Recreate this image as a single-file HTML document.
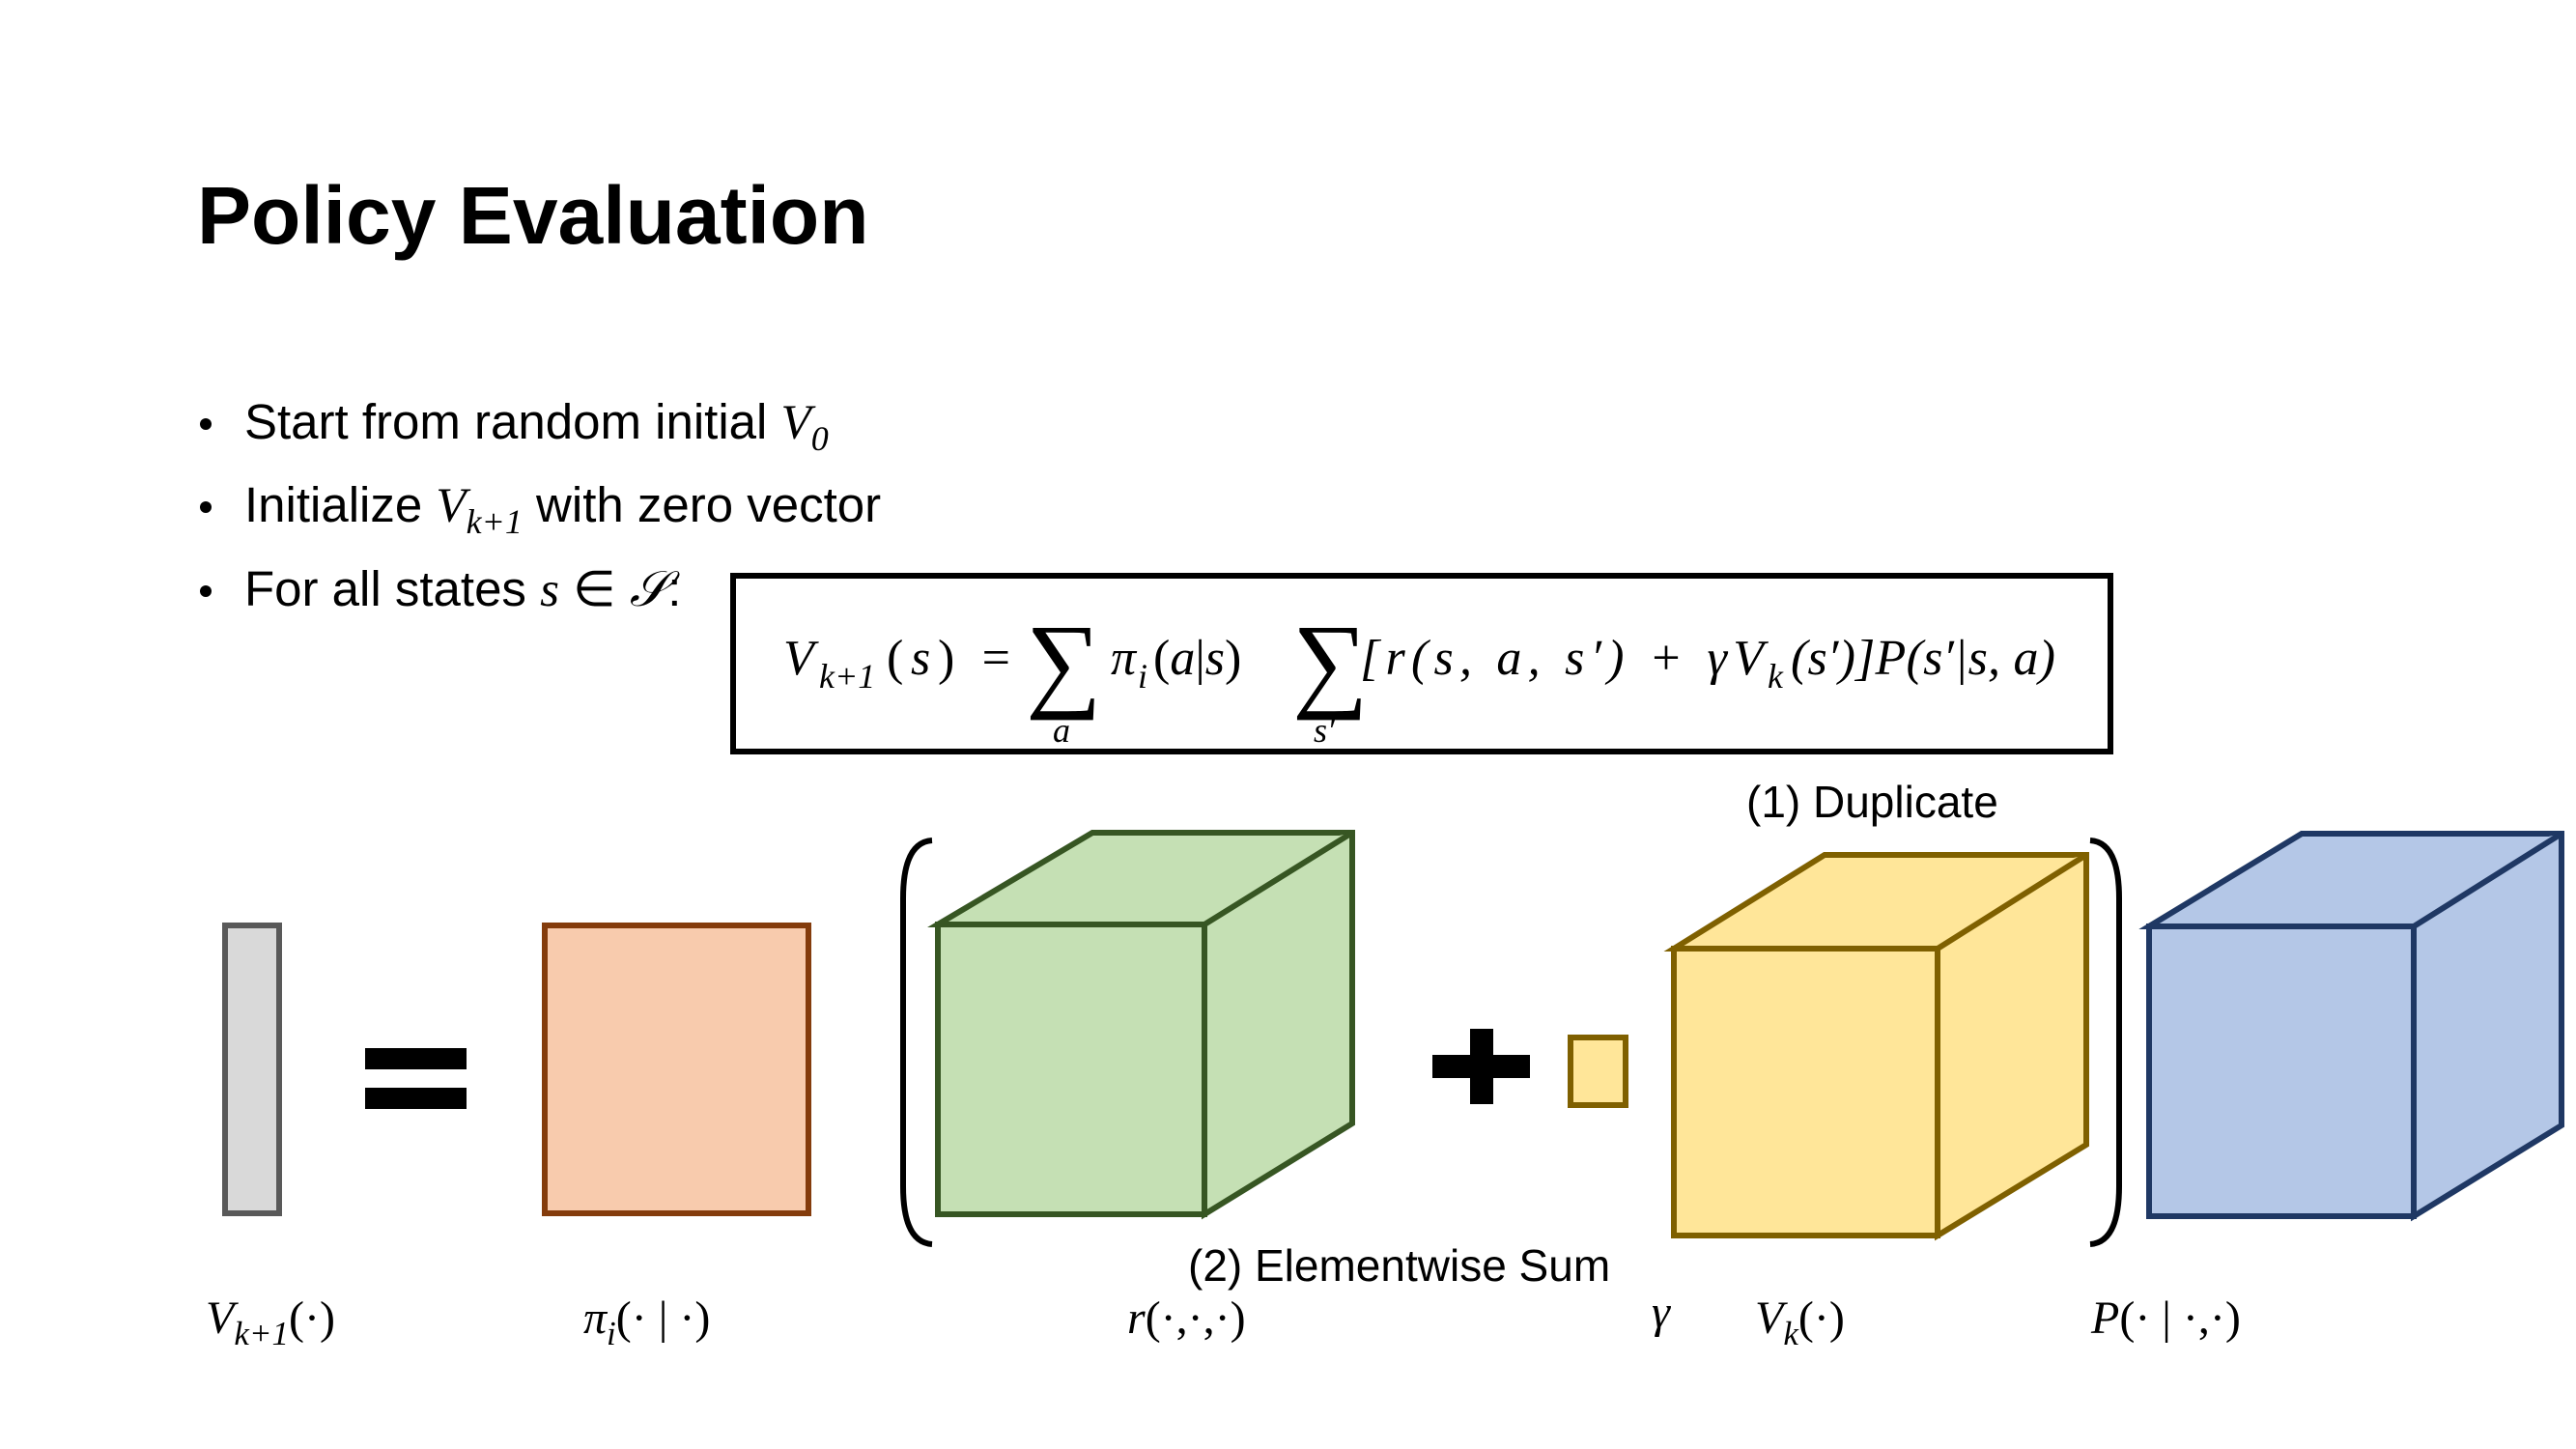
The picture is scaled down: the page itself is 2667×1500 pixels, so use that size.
<!DOCTYPE html>
<html><head><meta charset="utf-8"><style>
html,body{margin:0;padding:0;background:#fff;}
svg{display:block;}
.m{font-family:"Liberation Serif",serif;font-style:italic;}
.t{font-family:"Liberation Sans",sans-serif;}
</style></head><body>
<svg width="2667" height="1500" viewBox="0 0 2667 1500" xmlns="http://www.w3.org/2000/svg">
<text class="t" x="204" y="252" font-size="84" font-weight="bold" fill="#000">Policy Evaluation</text>

<g font-size="51" class="t">
<circle cx="213" cy="439" r="6" fill="#000"/>
<text x="253" y="454">Start from random initial <tspan class="m">V</tspan><tspan class="m" font-style="normal" font-size="36" dy="12">0</tspan></text>
<circle cx="213" cy="525" r="6" fill="#000"/>
<text x="253" y="540">Initialize <tspan class="m">V</tspan><tspan class="m" font-size="36" dy="12">k+1</tspan><tspan dy="-12"> with zero vector</tspan></text>
<circle cx="213" cy="612" r="6" fill="#000"/>
<text x="253" y="627">For all states <tspan class="m">s</tspan> ∈ <tspan class="m">𝒮</tspan>:</text>
</g>

<g>
<rect x="759" y="596" width="1426" height="182" fill="#fff" stroke="#000" stroke-width="6"/>
<g class="m" font-size="52" fill="#000">
<text x="811" y="698">V</text>
<text x="848" y="712" font-size="36">k+1</text>
<text x="918" y="698" font-style="normal" textLength="128" lengthAdjust="spacing">(<tspan font-style="italic">s</tspan>) =</text>
<text x="1062" y="722" font-size="110" font-style="normal">∑</text>
<text x="1090" y="768" font-size="36">a</text>
<text x="1150" y="698">π</text>
<text x="1178" y="712" font-size="36">i</text>
<text x="1194" y="698" font-style="normal">(<tspan font-style="italic">a</tspan>|<tspan font-style="italic">s</tspan>)</text>
<text x="1338" y="722" font-size="110" font-style="normal">∑</text>
<text x="1360" y="768" font-size="36">s′</text>
<text x="1408" y="698" textLength="418" lengthAdjust="spacing">[r(s, a, s′) + γV</text>
<text x="1830" y="712" font-size="36">k</text>
<text x="1854" y="698" textLength="274" lengthAdjust="spacing">(s′)]P(s′|s, a)</text>
</g>
</g>

<text class="t" x="1808" y="846" font-size="46">(1) Duplicate</text>
<text class="t" x="1230" y="1326" font-size="46">(2) Elementwise Sum</text>

<rect x="233" y="958" width="56" height="298" fill="#d9d9d9" stroke="#595959" stroke-width="6"/>
<g fill="#000">
<rect x="378" y="1085" width="105" height="22"/><rect x="378" y="1126" width="105" height="22"/>
</g>
<rect x="564" y="958" width="273" height="298" fill="#f8cbad" stroke="#843c0c" stroke-width="6"/>

<path d="M965,870 Q935,872 935,930 L935,1228 Q935,1286 965,1288" fill="none" stroke="#000" stroke-width="6"/>
<path d="M2164,870 Q2194,872 2194,930 L2194,1228 Q2194,1286 2164,1288" fill="none" stroke="#000" stroke-width="6"/>

<g fill="#c5e0b4" stroke="#375623" stroke-width="6">
<path d="M971,957 L1131,862 L1400,862 L1400,1163 L1247,1257 L1247,957 Z"/>
<path d="M971,957 L1247,957 L1400,862"/>
<rect x="971" y="957" width="276" height="300"/>
</g>

<g fill="#000">
<rect x="1483" y="1092" width="101" height="24"/><rect x="1522" y="1065" width="24" height="78"/>
</g>
<rect x="1626" y="1074" width="57" height="70" fill="#ffe699" stroke="#7f6000" stroke-width="6"/>

<g fill="#ffe699" stroke="#7f6000" stroke-width="6">
<path d="M1733,982 L1889,885 L2160,885 L2160,1185 L2006,1279 L2006,982 Z"/>
<path d="M1733,982 L2006,982 L2160,885"/>
<rect x="1733" y="982" width="273" height="297"/>
</g>

<g fill="#b4c7e7" stroke="#1f3864" stroke-width="6">
<path d="M2225,959 L2383,863 L2652,863 L2652,1165 L2499,1259 L2499,959 Z"/>
<path d="M2225,959 L2499,959 L2652,863"/>
<rect x="2225" y="959" width="274" height="300"/>
</g>

<g class="m" font-size="48" fill="#000">
<text x="213" y="1380">V<tspan font-size="35" dy="12">k+1</tspan><tspan dy="-12" font-style="normal">(·)</tspan></text>
<text x="604" y="1380">π<tspan font-size="35" dy="12">i</tspan><tspan dy="-12" font-style="normal">(· | ·)</tspan></text>
<text x="1167" y="1380">r<tspan font-style="normal">(·,·,·)</tspan></text>
<text x="1710" y="1374">γ</text>
<text x="1817" y="1380">V<tspan font-size="35" dy="12">k</tspan><tspan dy="-12" font-style="normal">(·)</tspan></text>
<text x="2165" y="1380">P<tspan font-style="normal">(· | ·,·)</tspan></text>
</g>
</svg>
</body></html>
